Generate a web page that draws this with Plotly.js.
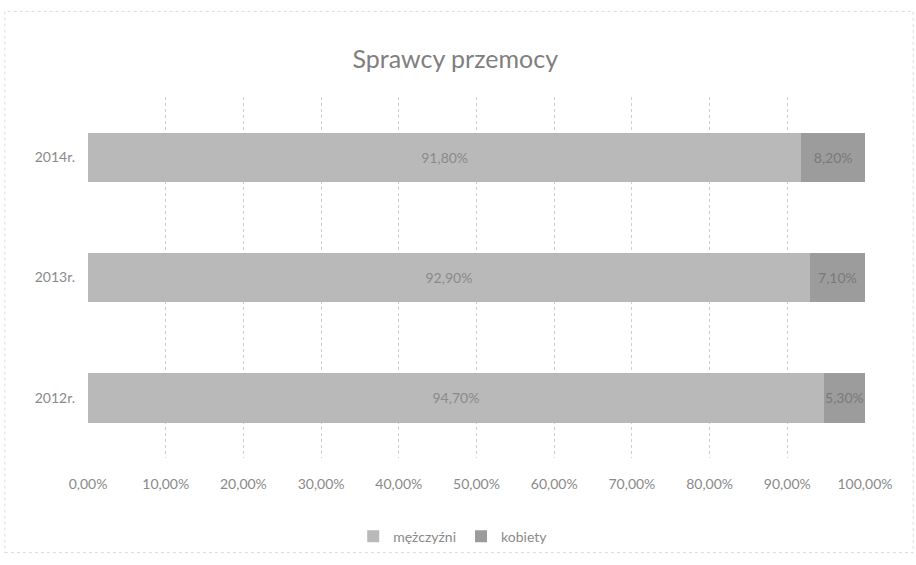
<!DOCTYPE html>
<html>
<head>
<meta charset="utf-8">
<script src="https://cdn.plot.ly/plotly-3.0.1.min.js"></script>
<style>html,body{margin:0;padding:0;background:#fff;}#chart{width:916px;height:565px;}</style>
</head>
<body>
<div id="chart"></div>
<script>
const categories = ['2012r.', '2013r.', '2014r.'];
const mezczyzni = [94.7, 92.9, 91.8];
const kobiety = [5.3, 7.1, 8.2];
const seriesNames = ['mężczyźni', 'kobiety'];
const tickValues = [0, 10, 20, 30, 40, 50, 60, 70, 80, 90, 100];

const fmt = v => v.toFixed(2).replace('.', ',') + '%';
const font = 'Lato, "Open Sans", sans-serif';

const traces = [
  {
    type: 'bar', orientation: 'h', name: seriesNames[0],
    y: categories, x: mezczyzni, text: mezczyzni.map(fmt),
    textposition: 'inside', insidetextanchor: 'middle', constraintext: 'none', textangle: 0,
    textfont: {family: font, size: 14, color: '#8a8a8a'},
    marker: {color: '#b9b9b9'}, hoverinfo: 'none'
  },
  {
    type: 'bar', orientation: 'h', name: seriesNames[1],
    y: categories, x: kobiety, text: kobiety.map(fmt),
    textposition: 'inside', insidetextanchor: 'middle', constraintext: 'none', textangle: 0,
    textfont: {family: font, size: 14, color: '#7a7a7a'},
    marker: {color: '#9c9c9c'}, hoverinfo: 'none', cliponaxis: false
  }
];

const layout = {
  width: 916, height: 565,
  margin: {l: 88, r: 51, t: 97, b: 101},
  paper_bgcolor: '#fff', plot_bgcolor: '#fff',
  barmode: 'stack', bargap: 0.59,
  separators: ', ',
  font: {family: font, color: '#8a8a8a', size: 14},
  title: {text: 'Sprawcy przemocy', x: 0.497, xanchor: 'center', y: 0.895, yanchor: 'middle',
          font: {family: font, size: 25, color: '#808080'}},
  xaxis: {
    range: [0, 100], tickvals: tickValues, ticktext: tickValues.map(fmt),
    showgrid: true, gridcolor: '#cdcdcd', griddash: 'dot', gridwidth: 1,
    zeroline: false, showline: false, ticks: '', ticklabelstandoff: 16,
    tickfont: {family: font, size: 14, color: '#8a8a8a'}, fixedrange: true
  },
  yaxis: {
    type: 'category', categoryorder: 'array', categoryarray: categories,
    showgrid: false, zeroline: false, showline: false, ticks: '',
    ticklabelstandoff: 12,
    tickfont: {family: font, size: 14, color: '#8a8a8a'}, fixedrange: true
  },
  showlegend: true,
  legend: {orientation: 'h', x: 0.47, xanchor: 'center', y: -0.218, yanchor: 'middle',
           traceorder: 'normal', font: {family: font, size: 14, color: '#8a8a8a'},
           bgcolor: 'rgba(0,0,0,0)', itemwidth: 30},
  shapes: [{
    type: 'rect', xref: 'paper', yref: 'paper',
    x0: -0.107, x1: 1.062, y0: -0.262, y1: 1.237,
    line: {color: '#dcdcdc', width: 1, dash: 'dot'}
  }]
};

Plotly.newPlot('chart', traces, layout, {displayModeBar: false, staticPlot: true});
</script>
</body>
</html>
